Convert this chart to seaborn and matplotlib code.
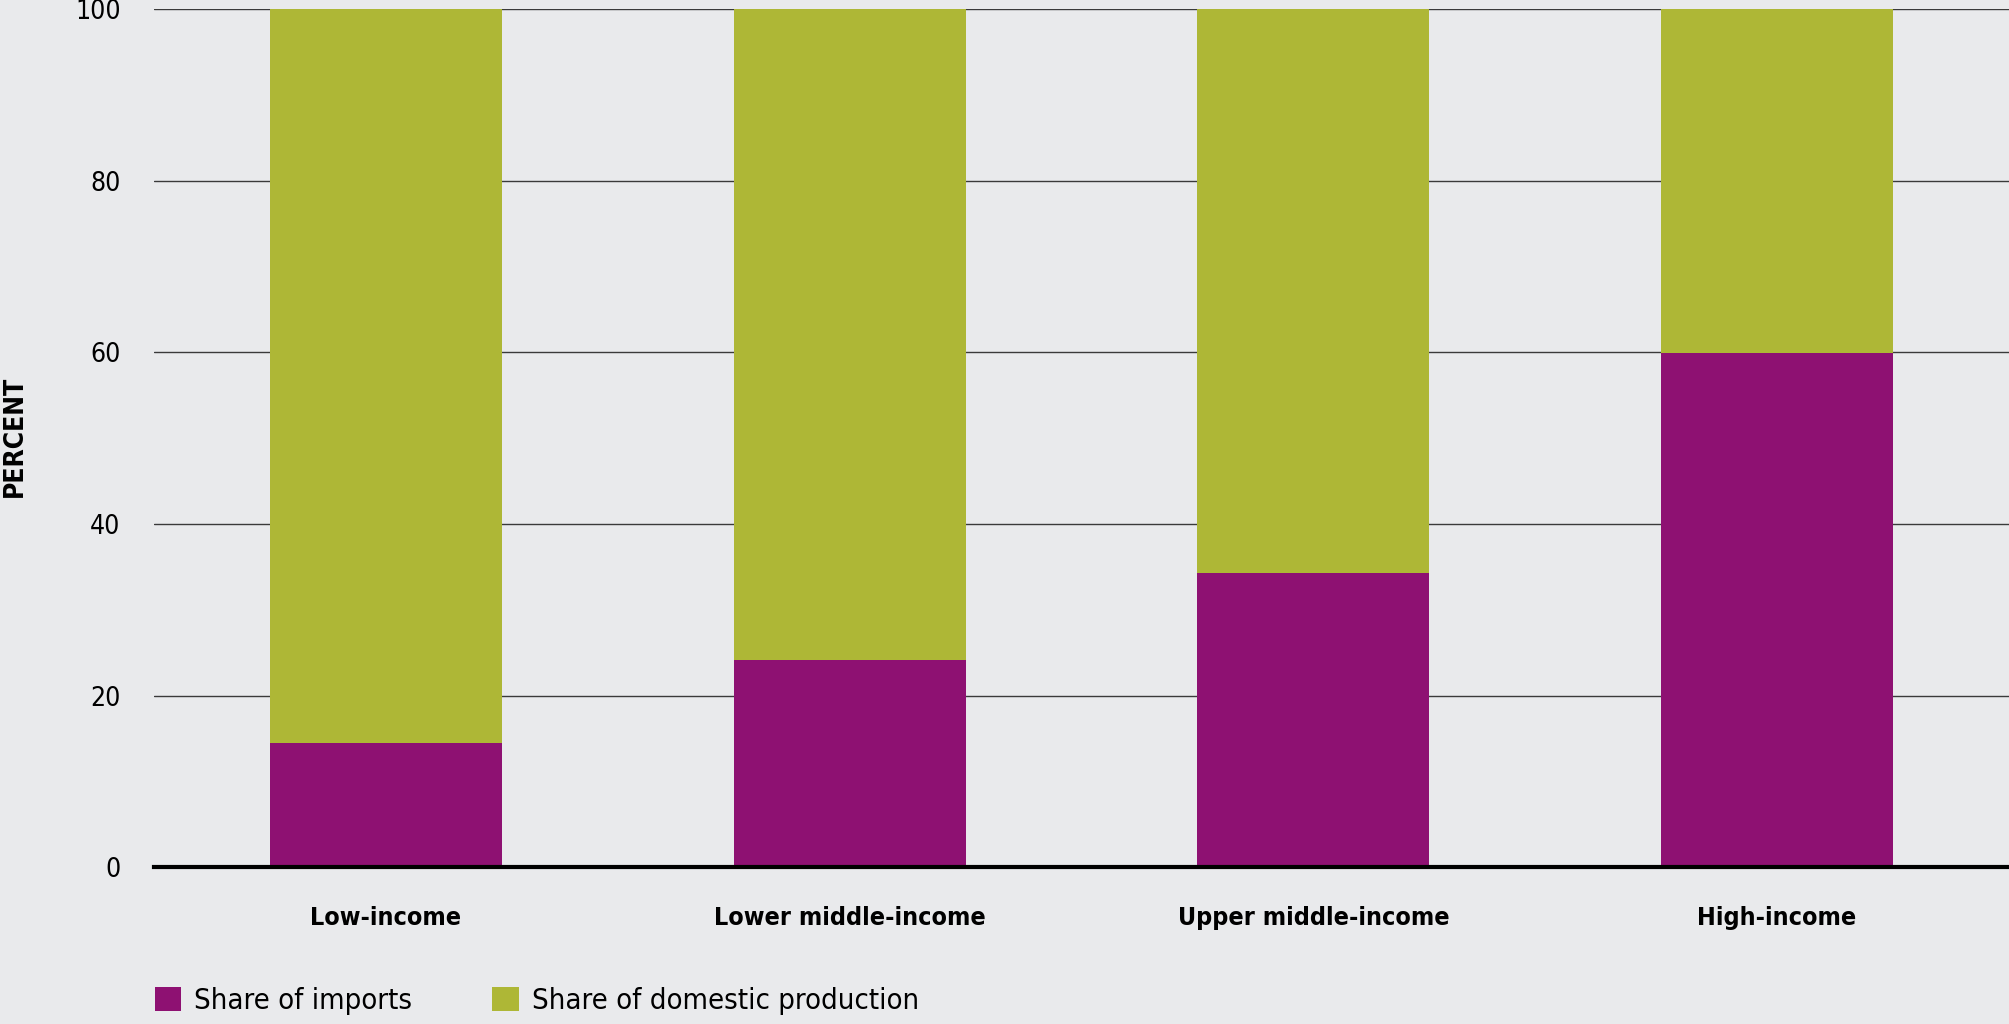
import matplotlib
matplotlib.use("Agg")
import matplotlib.pyplot as plt
from matplotlib.patches import Patch
import seaborn as sns
import pandas as pd

# data
groups = ["Low-income", "Lower middle-income", "Upper middle-income", "High-income"]
share_imports = [14.5, 24.2, 34.3, 59.9]
share_domestic = [85.5, 75.8, 65.7, 40.1]
y_ticks = [0, 20, 40, 60, 80, 100]

purple = "#8e1172"
olive = "#aeb736"
bg = "#e9eaec"

sns.set_theme(style="white")
plt.rcParams["font.family"] = ["DejaVu Sans"]
plt.rcParams["font.stretch"] = "condensed"
plt.rcParams["text.color"] = "black"
plt.rcParams["xtick.color"] = "black"
plt.rcParams["ytick.color"] = "black"

df = pd.DataFrame({"group": groups, "imports": share_imports, "domestic": share_domestic})
df["total"] = df["imports"] + df["domestic"]

fig = plt.figure(figsize=(20.09, 10.24), dpi=100, facecolor=bg)
ax = fig.add_axes([0.0766, 0.153, 0.9234, 0.838])
ax.set_facecolor(bg)

# stacked: full bar in olive, imports drawn over it
sns.barplot(data=df, x="group", y="total", color=olive, width=0.5, saturation=1,
            linewidth=0, ax=ax, zorder=2)
sns.barplot(data=df, x="group", y="imports", color=purple, width=0.5, saturation=1,
            linewidth=0, ax=ax, zorder=3)

ax.set_ylim(0, 100)
ax.set_xlim(-0.5, 3.5)
ax.set_yticks(y_ticks)
ax.set_yticklabels([str(t) for t in y_ticks], fontsize=19)
ax.tick_params(axis="y", length=0, pad=24)
ax.tick_params(axis="x", length=0, pad=28)
for lab in ax.get_xticklabels():
    lab.set_fontsize(18)
    lab.set_fontweight("bold")

ax.yaxis.grid(True, color="#3a3a3a", linewidth=1.0, zorder=0)
ax.set_axisbelow(True)
for s in ["top", "right", "left"]:
    ax.spines[s].set_visible(False)
ax.spines["bottom"].set_color("black")
ax.spines["bottom"].set_linewidth(3.0)
ax.spines["bottom"].set_zorder(5)

ax.set_xlabel("")
ax.set_ylabel("")
fig.text(0.0075, 0.574, "PERCENT", rotation=90, ha="center", va="center",
         fontsize=19, fontweight="bold")

handles = [Patch(facecolor=purple, linewidth=0, label="Share of imports"),
           Patch(facecolor=olive, linewidth=0, label="Share of domestic production")]
fig.legend(handles=handles, loc="lower left", bbox_to_anchor=(0.064, -0.017), ncol=2,
           frameon=False, fontsize=21, handlelength=0.9, handleheight=0.9,
           handletextpad=0.45, columnspacing=2.75)

fig.savefig("out.png", dpi=100, facecolor=bg)
